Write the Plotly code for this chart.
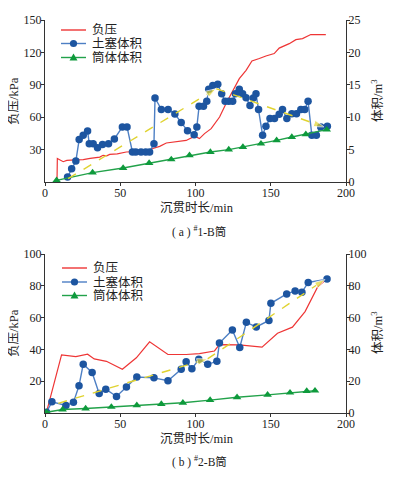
import plotly.graph_objects as go

# ---------------- (a) #1-B ----------------
a_press_t = [8.0, 8.2, 12.1, 14.5, 20, 25.4, 30, 36.4, 38.6, 41, 43, 48, 54, 60, 67.3, 71.7, 76.2, 80.6,
             85, 90.5, 93.8, 98.2, 100.5, 102.6, 106, 110.4, 116, 120.3, 124.7, 129.1, 133.6, 137.5,
             142.4, 146.8, 152.3, 155.6, 162.3, 166.7, 171.1, 176.6, 186.6]
a_press = [2, 21.7, 18.8, 20.0, 20.4, 20.7, 21.8, 23.1, 24.7, 24.2, 25.6, 26.0, 27.8, 28.2, 28.7, 31.0,
           33.0, 36.1, 36.8, 37.7, 38.5, 41.5, 41.7, 40.2, 44.8, 49.4, 60.2, 72.6, 84.9, 95.7, 103.4, 112,
           114.3, 116.7, 118.9, 124, 128.1, 131.8, 132.8, 136.5, 136.5]
a_plug_t = [15.0, 17.7, 20.5, 22.7, 25.4, 28.3, 29.4, 32.0, 34.9, 38.2, 42.2, 46.1, 51.4, 54.5, 58.1,
            60.3, 63.8, 66.9, 69.5, 72.4, 73.1, 77.3, 81.8, 86.3, 90.5, 94.7, 99.1, 100.9, 102.4, 105.3,
            107.5, 108.8, 111.5, 114.8, 117.4, 119.7, 122.1, 124.7, 126.5, 129.1, 131.3, 133.6, 136.2,
            138.4, 140.2, 141.9, 144.6, 146.8, 149.5, 152.5, 155.6, 157.8, 160.7, 164.0, 167.1, 170.0,
            172.6, 174.8, 177.3, 180.3, 183.2, 187.6]
a_plug = [0.77, 2.06, 3.24, 6.54, 7.2, 7.87, 5.92, 5.92, 5.3, 5.8, 5.92, 6.64, 8.5, 8.5, 4.63, 4.63,
          4.63, 4.63, 4.63, 5.92, 12.96, 11.2, 11.2, 10.5, 9.2, 7.9, 7.28, 8.5, 11.7, 11.7, 12.45, 14.3,
          14.9, 15.08, 13.6, 12.45, 12.45, 12.45, 13.6, 14.3, 13.6, 13.0, 11.8, 12.96, 13.6, 11.2, 7.2,
          8.6, 9.8, 9.8, 10.45, 11.17, 9.8, 10.55, 10.55, 11.17, 11.2, 12.45, 7.2, 7.2, 8.5, 8.6]
a_shell_t = [7.7, 31.6, 51.9, 69.2, 83.9, 96, 109.9, 122.1, 131.5, 143.5, 153.9, 164, 173.3, 187.2]
a_shell = [0.26, 1.45, 2.16, 2.93, 3.48, 4.12, 4.63, 5.0, 5.4, 5.92, 6.43, 6.94, 7.36, 8.08]
a_trend_t = [15.4, 113.7, 185.4]
a_trend = [0.52, 14.4, 8.5]

# ---------------- (b) #2-B ----------------
b_press_t = [1, 11, 20.5, 28.3, 32.7, 40.8, 51.4, 60.7, 69.5, 81.7, 93.8, 102.6, 112.6, 115.9, 129.1,
             144.2, 154.5, 164.4, 172.8, 181, 187.2]
b_press = [0.5, 36.5, 35.5, 37, 34, 32.5, 27.5, 34.7, 44.8, 36.8, 36.8, 37.4, 39, 43, 42.8, 41.4, 50.2,
           54, 63.8, 79, 84.4]
b_plug_t = [1, 4.6, 13.9, 18.9, 22.6, 25.4, 31.3, 36, 40.4, 47.5, 54.1, 61, 72.4, 81.7, 90.5, 93.8,
            97.6, 102.2, 108.1, 114.2, 115.9, 124.5, 129.4, 133.8, 140.4, 148.8, 150.1, 160.6, 166.2,
            170.7, 174.9, 187.4]
b_plug = [0.5, 7.0, 4.7, 6.7, 17.1, 30.7, 25.5, 12.2, 15.0, 10.4, 16.4, 22.6, 22.1, 20.3, 27.5, 32.2,
          27.8, 33.8, 30.6, 32.5, 44.0, 52.2, 41.2, 57.0, 54.1, 58.2, 69.0, 74.9, 76.8, 75.9, 82.1, 84.2]
b_shell_t = [1, 11.7, 27, 44.1, 61, 77.3, 91.6, 109.7, 127.6, 147.9, 162.8, 173.9, 179.4]
b_shell = [0.5, 2.2, 2.8, 3.8, 4.8, 5.6, 6.4, 8.1, 9.9, 11.4, 12.8, 13.8, 14.0]
b_trend_t = [8.8, 108.0, 186.0]
b_trend = [6.1, 34.0, 84.0]

names = ["负压", "土塞体积", "筒体体积"]
x_ticks = [0, 50, 100, 150, 200]
a_left_ticks = [30, 60, 90, 120, 150]
a_right_ticks = [0, 5, 10, 15, 20, 25]
b_left_ticks = [20, 40, 60, 80, 100]
b_right_ticks = [0, 20, 40, 60, 80, 100]

RED = "#ee3535"
BLUE_L = "#4d7fc4"
BLUE_M = "#1d55a0"
GREEN_L = "#22a24a"
GREEN_M = "#0e9a3c"
YELLOW = "#e0d330"
FONT = "Liberation Serif, Noto Sans CJK SC, serif"

OFF = 8  # page body margin
W, H = 394 - OFF, 477 - OFF


def P(px, py):
    """reference-window pixel -> paper fraction"""
    return (px - OFF) / W, (H - (py - OFF)) / H


fig = go.Figure()


def add_panel(xa, yl, yr, pt, p, lt, l, st, s, tt, tv):
    fig.add_trace(go.Scatter(x=pt, y=p, mode="lines", name=names[0], xaxis=xa, yaxis=yl,
                             line=dict(color=RED, width=1.2), showlegend=False))
    fig.add_trace(go.Scatter(x=lt, y=l, mode="lines+markers", name=names[1], xaxis=xa, yaxis=yr,
                             line=dict(color=BLUE_L, width=1.4), showlegend=False,
                             marker=dict(color=BLUE_M, size=7.5, symbol="circle")))
    fig.add_trace(go.Scatter(x=st, y=s, mode="lines+markers", name=names[2], xaxis=xa, yaxis=yr,
                             line=dict(color=GREEN_L, width=1.4), showlegend=False,
                             marker=dict(color=GREEN_M, size=7.5, symbol="triangle-up")))
    fig.add_trace(go.Scatter(x=tt, y=tv, mode="lines+markers", xaxis=xa, yaxis=yr, showlegend=False,
                             line=dict(color=YELLOW, width=1.4, dash="dash"),
                             marker=dict(color=YELLOW, size=[0, 11, 11], symbol="arrow",
                                         angleref="previous")))


add_panel("x", "y", "y2", a_press_t, a_press, a_plug_t, a_plug, a_shell_t, a_shell,
          a_trend_t, a_trend)
add_panel("x2", "y3", "y4", b_press_t, b_press, b_plug_t, b_plug, b_shell_t, b_shell,
          b_trend_t, b_trend)

xd = [P(45, 0)[0], P(346, 0)[0]]
a_dom = [P(0, 182)[1], P(0, 20)[1]]
b_dom = [P(0, 413)[1], P(0, 254)[1]]

axis_common = dict(showline=True, linecolor="#333", linewidth=1, ticks="outside", ticklen=3,
                   tickcolor="#333", showgrid=False, zeroline=False, automargin=False,
                   tickfont=dict(size=12, color="#222", family=FONT))

fig.update_layout(
    width=W, height=H, margin=dict(l=0, r=0, t=0, b=0),
    paper_bgcolor="white", plot_bgcolor="white",
    font=dict(family=FONT, color="#222", size=12),
    xaxis=dict(domain=xd, range=[0, 200], tickvals=x_ticks, anchor="y", ticklabelstandoff=-3,
               **axis_common),
    yaxis=dict(domain=a_dom, range=[0, 150], tickvals=a_left_ticks, anchor="x", ticklabelstandoff=-3,
               **axis_common),
    yaxis2=dict(domain=a_dom, range=[0, 25], tickvals=a_right_ticks, anchor="x", overlaying="y",
                side="right", ticklabelstandoff=-4, **axis_common),
    xaxis2=dict(domain=xd, range=[0, 200], tickvals=x_ticks, anchor="y3", ticklabelstandoff=-3,
                **axis_common),
    yaxis3=dict(domain=b_dom, range=[0, 100], tickvals=b_left_ticks, anchor="x2", ticklabelstandoff=-3,
                **axis_common),
    yaxis4=dict(domain=b_dom, range=[0, 100], tickvals=b_right_ticks, anchor="x2", overlaying="y3",
                side="right", ticklabelstandoff=-4, **axis_common),
)

ann = []
shapes = []


def A(text, px, py, angle=0, size=12, xanchor="center"):
    x, y = P(px, py)
    ann.append(dict(text=text, x=x, y=y, xref="paper", yref="paper",
                    showarrow=False, textangle=angle, font=dict(size=size, family=FONT, color="#222"),
                    xanchor=xanchor, yanchor="middle"))


def legend(x0, x1, ys):
    colors = [(RED, None), (BLUE_L, BLUE_M), (GREEN_L, GREEN_M)]
    kinds = [None, "circle", "tri"]
    for name, (lc, mc), kind, y in zip(names, colors, kinds, ys):
        a, b = P(x0, y)
        c, _ = P(x1, y)
        shapes.append(dict(type="line", xref="paper", yref="paper", x0=a, x1=c, y0=b, y1=b,
                           line=dict(color=lc, width=1.4)))
        cx = (x0 + x1) / 2
        if kind == "circle":
            r = 3.6
            p0 = P(cx - r, y + r)
            p1 = P(cx + r, y - r)
            shapes.append(dict(type="circle", xref="paper", yref="paper", x0=p0[0], y0=p0[1],
                               x1=p1[0], y1=p1[1], fillcolor=mc, line=dict(color=mc, width=0)))
        elif kind == "tri":
            t1 = P(cx - 4, y + 3)
            t2 = P(cx + 4, y + 3)
            t3 = P(cx, y - 4)
            path = f"M {t1[0]} {t1[1]} L {t2[0]} {t2[1]} L {t3[0]} {t3[1]} Z"
            shapes.append(dict(type="path", xref="paper", yref="paper", path=path,
                               fillcolor=mc, line=dict(color=mc, width=0)))
        A(name, x1 + 4, y, 0, 12.5, "left")


legend(61, 86, [30, 43.5, 57.5])
legend(62, 87, [268, 282, 295.5])

A("负压/kPa", 14, 101, -90, 12.5)
A("体积/m<sup>3</sup>", 377, 101, -90, 12.5)
A("沉贯时长/min", 197, 208, 0, 12.5)
A("( a ) <sup>#</sup>1-B筒", 199, 231, 0, 11.5)
A("负压/kPa", 14, 333, -90, 12.5)
A("体积/m<sup>3</sup>", 377, 333, -90, 12.5)
A("沉贯时长/min", 197, 439, 0, 12.5)
A("( b ) <sup>#</sup>2-B筒", 199, 461, 0, 11.5)
fig.update_layout(annotations=ann, shapes=shapes)

fig.write_html("out.html")
